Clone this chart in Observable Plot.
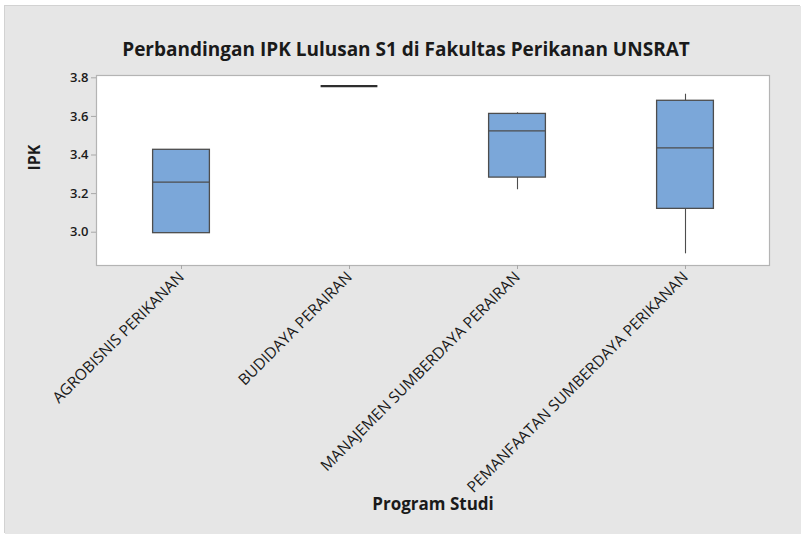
<!DOCTYPE html>
<html>
<head>
<meta charset="utf-8">
<script src="https://cdn.jsdelivr.net/npm/d3@7"></script>
<script src="https://cdn.jsdelivr.net/npm/@observablehq/plot@0.6"></script>
<style>
  html, body { margin: 0; padding: 0; background: #ffffff; }
  #wrap { position: absolute; left: 5px; top: 6px; width: 796px; height: 528px; background: #e6e6e6; box-shadow: -1px -1px 0 #d2d2d2; overflow: hidden; }
  #wrap svg { display: block; }
</style>
</head>
<body>
<div id="wrap"></div>
<script>
const categories = ["AGROBISNIS PERIKANAN", "BUDIDAYA PERAIRAN", "MANAJEMEN SUMBERDAYA PERAIRAN", "PEMANFAATAN SUMBERDAYA PERIKANAN"];
const whiskerLow  = [2.995, 3.757, 3.220, 2.888];
const q1          = [2.995, 3.757, 3.283, 3.121];
const median      = [3.259, 3.757, 3.525, 3.437];
const q3          = [3.427, 3.757, 3.613, 3.681];
const whiskerHigh = [3.427, 3.757, 3.619, 3.715];
const yTicks = [3.0, 3.2, 3.4, 3.6, 3.8];

const titleText = "Perbandingan IPK Lulusan S1 di Fakultas Perikanan UNSRAT";
const xLabel = "Program Studi";
const yLabel = "IPK";

const rows = categories.map((c, i) => ({
  cat: c, lo: whiskerLow[i], q1: q1[i], med: median[i], q3: q3[i], hi: whiskerHigh[i]
}));

const inset = 55.6;
const font = "'Open Sans', 'Noto Sans', sans-serif";

const chart = Plot.plot({
  width: 796,
  height: 528,
  marginLeft: 91,
  marginRight: 32,
  marginTop: 69,
  marginBottom: 269,
  style: { background: "#e6e6e6", fontFamily: font, color: "#1a1a1a", overflow: "visible" },
  x: { type: "band", domain: categories, padding: 0, axis: null },
  y: { domain: [2.8275, 3.812], axis: null },
  marks: [
    Plot.frame({ fill: "white", stroke: "#b4b4b4", strokeWidth: 1.2 }),
    Plot.axisY({ ticks: yTicks, tickFormat: d3.format(".1f"), tickSize: 5, tickPadding: 3, stroke: "#a8a8a8", fontSize: 13, fontWeight: 600, label: null }),
    Plot.axisX({ tickSize: 4, tickPadding: 5, tickRotate: -45, stroke: "#a8a8a8", fontSize: 15.5, fontWeight: 400, label: null }),
    Plot.ruleX(rows.filter(d => d.lo < d.q1), { x: "cat", y1: "lo", y2: "q1", stroke: "#4d4d4d", strokeWidth: 1.1 }),
    Plot.ruleX(rows.filter(d => d.hi > d.q3), { x: "cat", y1: "q3", y2: "hi", stroke: "#4d4d4d", strokeWidth: 1.1 }),
    Plot.barY(rows.filter(d => d.q3 > d.q1), { x: "cat", y1: "q1", y2: "q3", fill: "#7ba7d9", stroke: "#4d4d4d", strokeWidth: 1.3, insetLeft: inset, insetRight: inset }),
    Plot.tickY(rows, { x: "cat", y: "med", stroke: d => d.q3 > d.q1 ? "#4d4d4d" : "#2e2e2e", strokeWidth: d => d.q3 > d.q1 ? 1.3 : 2.2, insetLeft: inset, insetRight: inset }),
    Plot.text([titleText], { frameAnchor: "top", dx: -27, dy: -33, fontSize: 19, fontWeight: 700, fill: "#1a1a1a", text: d => d }),
    Plot.text([xLabel], { frameAnchor: "bottom", dy: 244, fontSize: 17, fontWeight: 700, fill: "#1a1a1a", text: d => d }),
    Plot.text([yLabel], { frameAnchor: "left", dx: -62, rotate: -90, fontSize: 16, fontWeight: 700, fill: "#1a1a1a", text: d => d })
  ]
});
document.getElementById("wrap").appendChild(chart);
</script>
</body>
</html>
